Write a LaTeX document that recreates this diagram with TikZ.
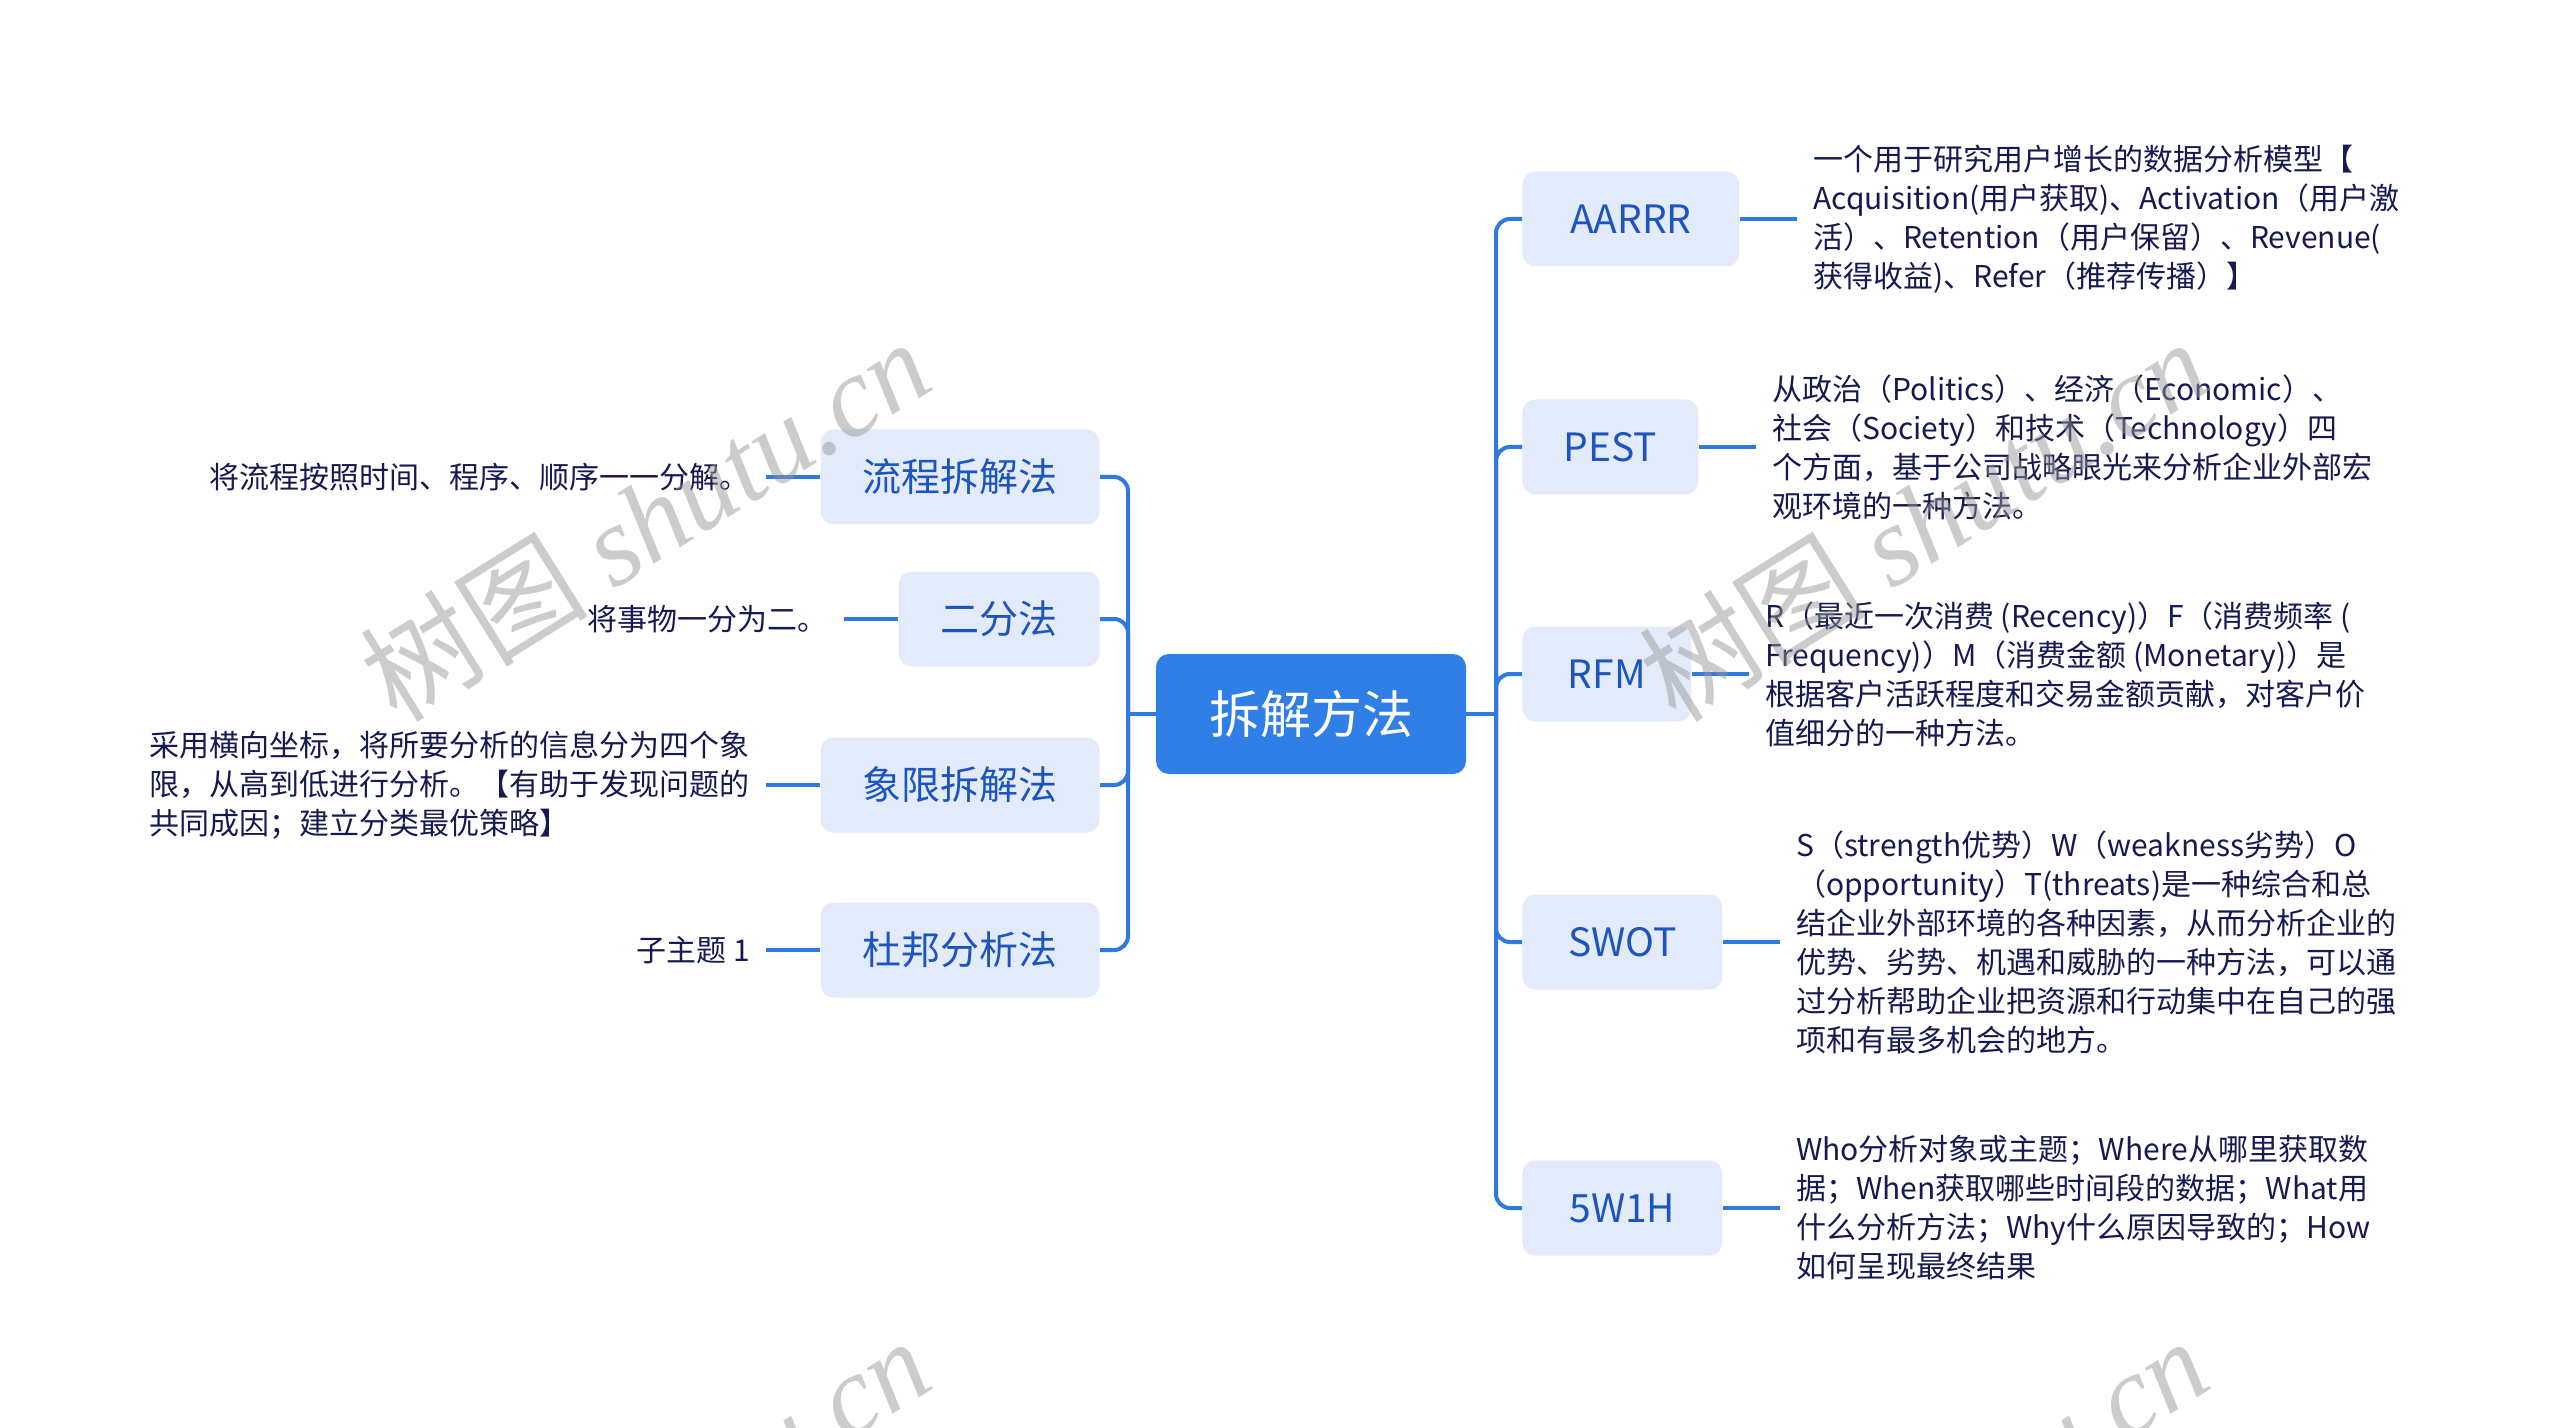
\documentclass[tikz,border=0pt]{standalone}
\usepackage{fontspec}
\setmainfont{Noto Sans CJK SC}
\newfontfamily\wmserif{Liberation Serif}
\usetikzlibrary{positioning}
\definecolor{mainblue}{RGB}{47,127,230}
\definecolor{linecol}{RGB}{47,122,224}
\definecolor{nodefill}{RGB}{227,235,251}
\definecolor{nodetext}{RGB}{28,85,190}
\definecolor{desctext}{RGB}{22,26,82}
\definecolor{wmgray}{RGB}{150,150,150}
\begin{document}
\begin{tikzpicture}[x=0.5pt,y=-0.5pt,
  topic/.style={fill=nodefill, rounded corners=6.5pt, minimum height=47.5pt, inner sep=0pt,
    text=nodetext, font=\fontsize{19.5}{23}\selectfont},
  root/.style={fill=mainblue, rounded corners=6.5pt, minimum width=155pt, minimum height=60pt,
    inner sep=0pt, text=white, font=\fontsize{25.5}{30}\selectfont},
  desc/.style={text=desctext, font=\fontsize{15}{19.5}\selectfont, inner xsep=8pt, inner ysep=0pt, align=left},
  link/.style={draw=linecol, line width=2pt, rounded corners=7pt},
  wm/.style={rotate=32, text=wmgray, opacity=0.48, font=\fontsize{57}{62}\selectfont}
]
\useasboundingbox (0,0) rectangle (2560,1428);
\fill[white] (0,0) rectangle (2560,1428);

% root
\node[root] (c) at (1311,714) {拆解方法};
\coordinate (rj) at (1496,714);
\coordinate (lj) at (1128,714);

% right topics
\node[topic, anchor=west, minimum width=108.5pt] (aarrr) at (1522,219) {AARRR};
\node[topic, anchor=west, minimum width=88pt] (pest) at (1522,447) {PEST};
\node[topic, anchor=west, minimum width=84.5pt] (rfm) at (1522,674) {RFM};
\node[topic, anchor=west, minimum width=100pt] (swot) at (1522,942) {SWOT};
\node[topic, anchor=west, minimum width=100pt] (wh) at (1522,1208) {5W1H};

% left topics
\node[topic, anchor=east, minimum width=139.5pt] (l1) at (1100,477) {流程拆解法};
\node[topic, anchor=east, minimum width=100.5pt] (l2) at (1100,619) {二分法};
\node[topic, anchor=east, minimum width=139.5pt] (l3) at (1100,785) {象限拆解法};
\node[topic, anchor=east, minimum width=139.5pt] (l4) at (1100,950) {杜邦分析法};

% right descriptions
\node[desc, right=28.5pt of aarrr] (aarrrT) {一个用于研究用户增长的数据分析模型【\\Acquisition(用户获取)、Activation（用户激\\活）、Retention（用户保留）、Revenue(\\获得收益)、Refer（推荐传播）】};
\node[desc, right=28.5pt of pest] (pestT) {从政治（Politics）、经济（Economic）、\\社会（Society）和技术（Technology）四\\个方面，基于公司战略眼光来分析企业外部宏\\观环境的一种方法。};
\node[desc, right=28.5pt of rfm] (rfmT) {R（最近一次消费 (Recency)）F（消费频率 (\\Frequency)）M（消费金额 (Monetary)）是\\根据客户活跃程度和交易金额贡献，对客户价\\值细分的一种方法。};
\node[desc, right=28.5pt of swot] (swotT) {S（strength优势）W（weakness劣势）O\\（opportunity）T(threats)是一种综合和总\\结企业外部环境的各种因素，从而分析企业的\\优势、劣势、机遇和威胁的一种方法，可以通\\过分析帮助企业把资源和行动集中在自己的强\\项和有最多机会的地方。};
\node[desc, right=28.5pt of wh] (whT) {Who分析对象或主题；Where从哪里获取数\\据；When获取哪些时间段的数据；What用\\什么分析方法；Why什么原因导致的；How\\如何呈现最终结果};

% left descriptions
\node[desc, left=27pt of l1] (l1T) {将流程按照时间、程序、顺序一一分解。};
\node[desc, left=27pt of l2] (l2T) {将事物一分为二。};
\node[desc, left=27pt of l3] (l3T) {采用横向坐标，将所要分析的信息分为四个象\\限，从高到低进行分析。【有助于发现问题的\\共同成因；建立分类最优策略】};
\node[desc, left=27pt of l4] (l4T) {子主题 1};

% connectors
\draw[link] (c.east) -- (rj);
\draw[link] (c.west) -- (lj);
\foreach \n in {aarrr,pest,rfm,swot,wh} {
  \draw[link] (rj) |- (\n.west);
  \draw[link] (\n.east) -- (\n T.west);
}
\foreach \n in {l1,l2,l3,l4} {
  \draw[link] (lj) |- (\n.east);
  \draw[link] (\n.west) -- (\n T.east);
}

% watermarks
\begin{scope}
\clip (0,0) rectangle (2560,1428);
\foreach \wx/\wy [count=\i] in {645/519, 1923/519, 645/1518, 1923/1518}
  \node[wm] (wm\i) at (\wx,\wy) {树图 {\wmserif\itshape shutu.cn}};
\end{scope}
\end{tikzpicture}
\end{document}
